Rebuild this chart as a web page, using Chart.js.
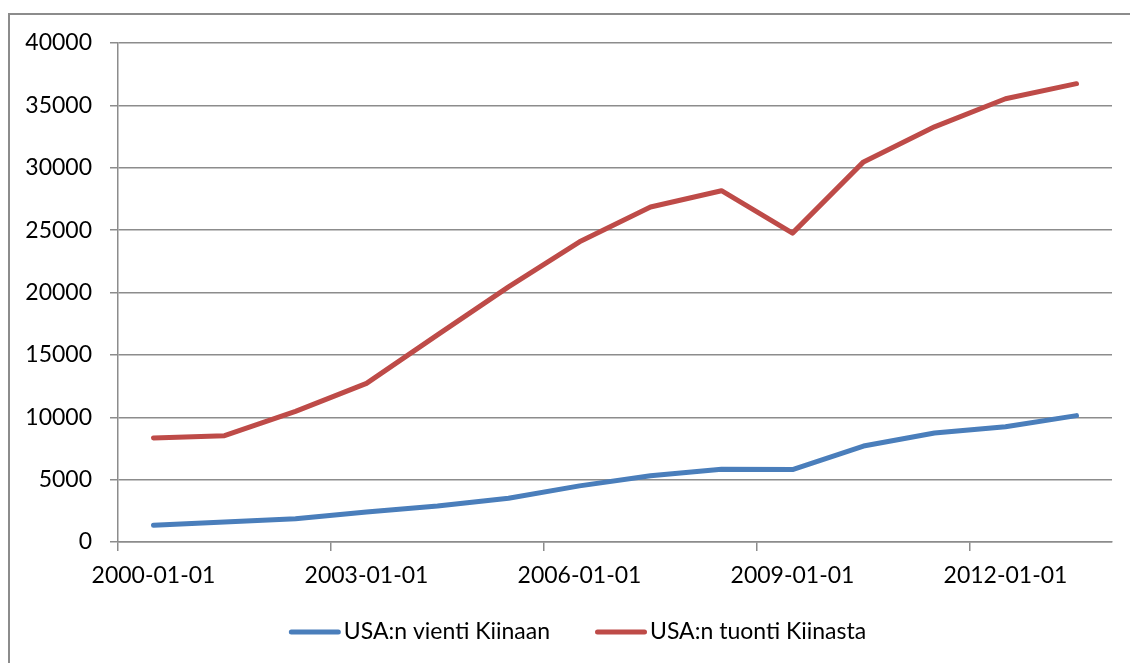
<!DOCTYPE html>
<html>
<head>
<meta charset="utf-8">
<script src="https://cdn.jsdelivr.net/npm/chart.js@4/dist/chart.umd.min.js"></script>
<style>
  html, body { margin: 0; padding: 0; background: #fff; }
  canvas { display: block; }
</style>
</head>
<body>
<canvas id="c" width="1130" height="663"></canvas>
<script>
const categories = ['2000-01-01','2001-01-01','2002-01-01','2003-01-01','2004-01-01','2005-01-01','2006-01-01','2007-01-01','2008-01-01','2009-01-01','2010-01-01','2011-01-01','2012-01-01','2013-01-01'];
const exportsToChina = [1340, 1610, 1870, 2410, 2890, 3510, 4500, 5310, 5840, 5810, 7690, 8740, 9240, 10130];
const importsFromChina = [8340, 8520, 10470, 12720, 16600, 20450, 24060, 26850, 28160, 24760, 30470, 33280, 35530, 36740];
const seriesLabels = ['USA:n vienti Kiinaan', 'USA:n tuonti Kiinasta'];
const yTicks = [0, 5000, 10000, 15000, 20000, 25000, 30000, 35000, 40000];

const FONT = 'Lato, "Open Sans", sans-serif';
const FONT_SIZE = 23;
const GRID = '#8c8c8c';

const framePlugin = {
  id: 'frame',
  beforeDraw(chart) {
    const ctx = chart.ctx;
    ctx.save();
    ctx.fillStyle = '#fff';
    ctx.fillRect(0, 0, chart.width, chart.height);
    ctx.strokeStyle = '#8c8c8c';
    ctx.lineWidth = 2;
    ctx.strokeRect(9, 14, chart.width + 20, chart.height + 20);
    ctx.restore();
  }
};

const legendPlugin = {
  id: 'customLegend',
  afterDraw(chart) {
    const ctx = chart.ctx;
    ctx.save();
    ctx.font = FONT_SIZE + 'px ' + FONT;
    ctx.textBaseline = 'middle';
    const lineW = 52, gapText = 3, gapItem = 45;
    const items = chart.data.datasets.map(ds => ({label: ds.label, color: ds.borderColor, w: ctx.measureText(ds.label).width}));
    let total = 0;
    items.forEach((it, i) => { total += lineW + gapText + it.w + (i ? gapItem : 0); });
    let x = 577.5 - total / 2;
    const y = 632;
    items.forEach((it, i) => {
      if (i) x += gapItem;
      ctx.strokeStyle = it.color;
      ctx.lineWidth = 5;
      ctx.lineCap = 'round';
      ctx.beginPath();
      ctx.moveTo(x + 2.5, y);
      ctx.lineTo(x + lineW - 2.5, y);
      ctx.stroke();
      x += lineW + gapText;
      ctx.fillStyle = '#000';
      ctx.fillText(it.label, x, y);
      x += it.w;
    });
    ctx.restore();
  }
};

new Chart(document.getElementById('c'), {
  type: 'line',
  data: {
    labels: categories,
    datasets: [
      { label: seriesLabels[0], data: exportsToChina, borderColor: '#4a7ebb', backgroundColor: '#4a7ebb', borderWidth: 5, pointRadius: 0, pointHoverRadius: 0, tension: 0, borderCapStyle: 'round', borderJoinStyle: 'round' },
      { label: seriesLabels[1], data: importsFromChina, borderColor: '#be4b48', backgroundColor: '#be4b48', borderWidth: 5, pointRadius: 0, pointHoverRadius: 0, tension: 0, borderCapStyle: 'round', borderJoinStyle: 'round' }
    ]
  },
  options: {
    responsive: false,
    animation: false,
    events: [],
    layout: { padding: { top: 43, right: 18, bottom: 62, left: 0 } },
    plugins: { legend: { display: false }, tooltip: { enabled: false } },
    scales: {
      x: {
        type: 'category',
        offset: true,
        grid: {
          offset: true,
          drawOnChartArea: false,
          drawTicks: true,
          tickLength: 9,
          lineWidth: 1.5,
          color: ctx => (ctx.index !== undefined && ctx.index % 3 === 0) ? GRID : 'rgba(0,0,0,0)'
        },
        border: { display: true, color: GRID, width: 1.5 },
        ticks: {
          autoSkip: false,
          maxRotation: 0,
          minRotation: 0,
          padding: 11,
          color: '#000',
          font: { family: FONT, size: FONT_SIZE },
          callback: function(v, i) { return i % 3 === 0 ? this.getLabelForValue(v) : ''; }
        },
        afterFit: s => { s.height = 59; }
      },
      y: {
        min: yTicks[0],
        max: yTicks[yTicks.length - 1],
        afterBuildTicks: s => { s.ticks = yTicks.map(v => ({ value: v })); },
        grid: { color: GRID, lineWidth: 1.5, drawTicks: true, tickLength: 8 },
        border: { display: true, color: GRID, width: 1.5 },
        ticks: {
          padding: 18,
          color: '#000',
          font: { family: FONT, size: FONT_SIZE },
          callback: v => String(v)
        },
        afterFit: s => { s.width = 118; }
      }
    }
  },
  plugins: [framePlugin, legendPlugin]
});
</script>
</body>
</html>
